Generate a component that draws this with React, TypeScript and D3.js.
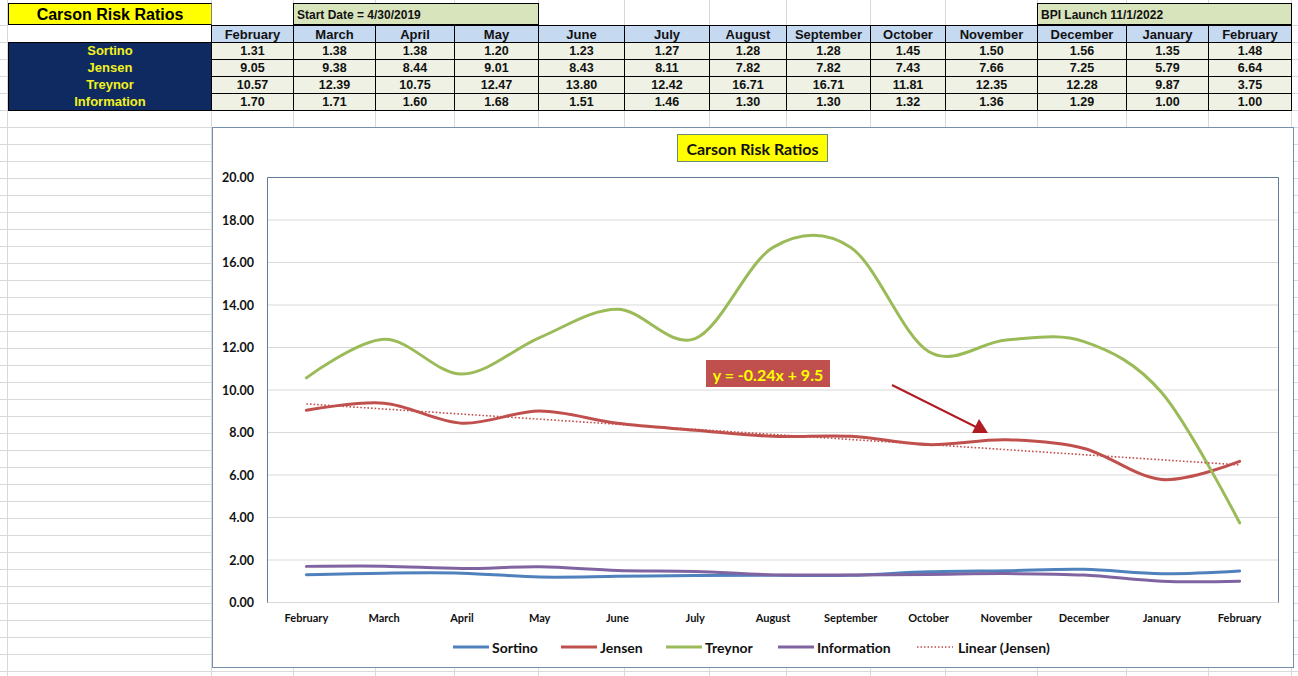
import React from "react";
import * as d3 from "d3";

const months = ["February","March","April","May","June","July","August","September","October","November","December","January","February"];
const sortino = [1.31,1.38,1.38,1.20,1.23,1.27,1.28,1.28,1.45,1.50,1.56,1.35,1.48];
const jensen = [9.05,9.38,8.44,9.01,8.43,8.11,7.82,7.82,7.43,7.66,7.25,5.79,6.64];
const treynor = [10.57,12.39,10.75,12.47,13.80,12.42,16.71,16.71,11.81,12.35,12.28,9.87,3.75];
const information = [1.70,1.71,1.60,1.68,1.51,1.46,1.30,1.30,1.32,1.36,1.29,1.00,1.00];
const rowLabels = ["Sortino","Jensen","Treynor","Information"];
const yTicks = [0,2,4,6,8,10,12,14,16,18,20];
const eqLabel = "y = -0.24x + 9.5";

const seriesList = [
  { name: "Sortino", values: sortino, color: "#4f81bd" },
  { name: "Jensen", values: jensen, color: "#c0504d" },
  { name: "Treynor", values: treynor, color: "#9bbb59" },
  { name: "Information", values: information, color: "#8064a2" },
];

const colEdges = [211, 293, 375, 454, 538, 624, 709, 786, 870, 945, 1037, 1126, 1208, 1291];
const W = 1298, H = 676;
const ARIAL = "'Liberation Sans', Arial, sans-serif";
const CAL = "Lato, 'Open Sans', sans-serif";

export default function App() {
  const idx = months.map((_, i) => i);
  const xBand = d3.scaleBand<number>().domain(idx).range([267.5, 1278.5]);
  const xc = (i: number) => (xBand(i) as number) + xBand.bandwidth() / 2;
  const y = d3.scaleLinear().domain([0, 20]).range([602.5, 177.5]);
  const line = d3.line<number>().x((_, i) => xc(i)).y(d => y(d)).curve(d3.curveCardinal.tension(0));

  // linear regression of Jensen over x = 1..n
  const n = jensen.length;
  const xs = jensen.map((_, i) => i + 1);
  const mx = d3.mean(xs) as number;
  const my = d3.mean(jensen) as number;
  const slope = d3.sum(xs.map((x, i) => (x - mx) * (jensen[i] - my))) / d3.sum(xs.map(x => (x - mx) ** 2));
  const intercept = my - slope * mx;

  const gridColor = "#d9d9d9";
  const hLines: number[] = [];
  for (let yy = 25; yy < H; yy += 17) hLines.push(yy + 0.5);

  const rowTops = [42, 59, 76, 93, 110];
  const tableData = [sortino, jensen, treynor, information];

  const legendItems = [
    { name: "Sortino", color: "#4f81bd", x1: 453, tx: 492, dotted: false },
    { name: "Jensen", color: "#c0504d", x1: 561, tx: 600, dotted: false },
    { name: "Treynor", color: "#9bbb59", x1: 666, tx: 705, dotted: false },
    { name: "Information", color: "#8064a2", x1: 778, tx: 817, dotted: false },
    { name: "Linear (Jensen)", color: "#c0504d", x1: 917, tx: 958, dotted: true },
  ];

  return (
    <div style={{ position: "absolute", left: 0, top: 0 }}>
      <svg width={W} height={H} style={{ display: "block", background: "#fff" }}>
        {/* spreadsheet gridlines */}
        {hLines.map((yy, i) => (
          <line key={"h" + i} x1={0} x2={W} y1={yy} y2={yy} stroke={gridColor} strokeWidth={1} />
        ))}
        {[7, ...colEdges].map((xx, i) => (
          <line key={"v" + i} x1={xx + 0.5} x2={xx + 0.5} y1={0} y2={H} stroke={gridColor} strokeWidth={1} />
        ))}

        {/* table row 1 */}
        <rect x={8.5} y={3.5} width={203} height={21} fill="#ffff00" stroke="#000" />
        <text x={110} y={14.5} textAnchor="middle" dominantBaseline="central" fontFamily={ARIAL} fontWeight="bold" fontSize={16} fill="#000">Carson Risk Ratios</text>
        <rect x={211.5} y={3.5} width={81} height={21} fill="#fff" />
        <rect x={293.5} y={3.5} width={245} height={21} fill="#d8e4bc" stroke="#000" />
        <text x={297} y={14.5} dominantBaseline="central" fontFamily={ARIAL} fontWeight="bold" fontSize={12} fill="#111">Start Date = 4/30/2019</text>
        <rect x={1037.5} y={3.5} width={254} height={21} fill="#d8e4bc" stroke="#000" />
        <text x={1041} y={14.5} dominantBaseline="central" fontFamily={ARIAL} fontWeight="bold" fontSize={12} fill="#111">BPI Launch 11/1/2022</text>

        {/* header row */}
        <rect x={8} y={25} width={203} height={17} fill="#fff" />
        {months.map((m, i) => (
          <g key={"hd" + i}>
            <rect x={colEdges[i] + 0.5} y={25.5} width={colEdges[i + 1] - colEdges[i]} height={17} fill="#c5d9f1" stroke="#000" />
            <text x={(colEdges[i] + colEdges[i + 1]) / 2 + 0.5} y={34} textAnchor="middle" dominantBaseline="central" fontFamily={ARIAL} fontWeight="bold" fontSize={13} fill="#111">{m}</text>
          </g>
        ))}

        {/* label column */}
        <rect x={8.5} y={42.5} width={203} height={68} fill="#0f2a60" stroke="#000" />
        {rowLabels.map((l, r) => (
          <text key={"rl" + r} x={110} y={rowTops[r] + 8.5} textAnchor="middle" dominantBaseline="central" fontFamily={ARIAL} fontWeight="bold" fontSize={13} fill="#f2f21c">{l}</text>
        ))}
        {tableData.map((vals, r) =>
          vals.map((v, i) => (
            <g key={`c${r}-${i}`}>
              <rect x={colEdges[i] + 0.5} y={rowTops[r] + 0.5} width={colEdges[i + 1] - colEdges[i]} height={17} fill="#eef1e3" stroke="#000" />
              <text x={(colEdges[i] + colEdges[i + 1]) / 2 + 0.5} y={rowTops[r] + 8.5} textAnchor="middle" dominantBaseline="central" fontFamily={ARIAL} fontWeight="bold" fontSize={12.5} fill="#111">{v.toFixed(2)}</text>
            </g>
          ))
        )}

        {/* chart area */}
        <rect x={212.5} y={127.5} width={1081} height={540} fill="#fff" stroke="#7490ad" strokeWidth={1} />
        <rect x={677.5} y={134.5} width={150} height={27} fill="#ffff00" stroke="#6b8a72" strokeWidth={1} />
        <text x={752.5} y={148.5} textAnchor="middle" dominantBaseline="central" fontFamily={CAL} fontWeight="bold" fontSize={16} fill="#111">Carson Risk Ratios</text>

        {yTicks.map(t => (
          <g key={"yt" + t}>
            {t > 0 && t < 20 && <line x1={267.5} x2={1278.5} y1={y(t)} y2={y(t)} stroke={gridColor} />}
            <text x={254} y={y(t)} textAnchor="end" dominantBaseline="central" fontFamily={CAL} fontWeight="bold" fontSize={12.5} fill="#111">{t.toFixed(2)}</text>
          </g>
        ))}
        <line x1={267.5} x2={1278.5} y1={y(0)} y2={y(0)} stroke={gridColor} />
        <path d={`M${267.5},${y(0)}V${y(20)}H${1278.5}V${y(0)}`} fill="none" stroke="#5f7c99" strokeWidth={1} />

        {months.map((m, i) => (
          <text key={"xl" + i} x={xc(i)} y={617} textAnchor="middle" dominantBaseline="central" fontFamily={CAL} fontWeight="bold" fontSize={11} fill="#111">{m}</text>
        ))}

        {seriesList.map(s => (
          <path key={s.name} d={line(s.values) as string} fill="none" stroke={s.color} strokeWidth={3} strokeLinecap="round" />
        ))}
        <line x1={xc(0)} x2={xc(n - 1)} y1={y(slope * 1 + intercept)} y2={y(slope * n + intercept)} stroke="#c0504d" strokeWidth={1.6} strokeDasharray="1.6,2" />

        {/* equation label */}
        <rect x={706} y={360} width={124} height={27} fill="#c0504d" />
        <text x={768} y={374} textAnchor="middle" dominantBaseline="central" fontFamily={CAL} fontWeight="bold" fontSize={16} fill="#ffff00">{eqLabel}</text>
        <line x1={892} y1={385} x2={978} y2={428} stroke="#b01c22" strokeWidth={2} />
        <polygon points="988,433 972,433 979,419" fill="#b01c22" />

        {/* legend */}
        {legendItems.map(it => (
          <g key={"lg" + it.name}>
            <line x1={it.x1} x2={it.x1 + 36} y1={647} y2={647} stroke={it.color} strokeWidth={it.dotted ? 1.5 : 3} strokeDasharray={it.dotted ? "1.5,2" : undefined} />
            <text x={it.tx} y={647} dominantBaseline="central" fontFamily={CAL} fontWeight="bold" fontSize={14} fill="#111">{it.name}</text>
          </g>
        ))}
      </svg>
    </div>
  );
}
